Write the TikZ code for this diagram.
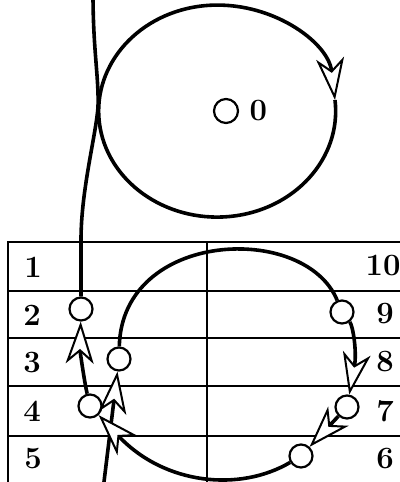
\documentclass[tikz,border=0pt]{standalone}
\usepackage{tikz}
\usetikzlibrary{arrows.meta,positioning}

\begin{document}
\begin{tikzpicture}[
  x=0.5pt, y=-0.5pt,
  state/.style={circle, draw, line width=1.1pt, fill=white, minimum size=11.5pt, inner sep=0pt},
  num/.style={font=\fontsize{15.5}{18}\selectfont\bfseries, inner sep=0pt},
  grid/.style={line width=1pt},
  track/.style={line width=1.8pt},
  arrow/.style={track, -{Stealth[length=21pt, width=14pt, inset=6pt, line width=1pt, fill=white]}}
]
\useasboundingbox (0,0) rectangle (400,482);
\clip (0,0) rectangle (400,482);
% table
\draw[grid] (410,242) -| (8,490);
\foreach \y in {291,338,386,436} \draw[grid] (8,\y) -- (410,\y);
\draw[grid] (207,242) -- (207,490);
% row numbers
\node[num] (l1) at (33,267) {1};
\node[num] (l2) at (32,315) {2};
\node[num] (l3) at (32,363) {3};
\node[num] (l4) at (32,411) {4};
\node[num] (l5) at (33,459) {5};
\node[num] (l6) at (385,459) {6};
\node[num] (l7) at (385,411) {7};
\node[num] (l8) at (385,362) {8};
\node[num] (l9) at (385,314) {9};
\node[num] (l10) at (383,266) {10};

% orbit
\node[state, minimum size=12pt] (n0) at (226,111) {};
\node[num, right=5pt of n0] (l0) {0};
\draw[arrow] (335,100) arc[start angle=-6, end angle=354, x radius=118.5, y radius=106];

% stations
\node[state] (n2) at (81,309) {};
\node[state] (n3) at (119,359) {};
\node[state] (n4) at (90,406) {};
\node[state] (n9) at (342,312) {};
\node[state] (n7) at (347,407) {};
\node[state] (n6) at (301,456) {};
\coordinate (top) at (93,-6);
\coordinate (bot) at (103,490);

\draw[track] (top) .. controls (93,50) and (99,78) .. (98,107)
  .. controls (96,135) and (81,190) .. (81,240) -- (n2);
\draw[arrow] (bot) -- (n3);
\draw[track] (n3) .. controls (122,230) and (305,222) .. (n9);
\draw[arrow] (n9) .. controls (353,326) and (357,352) .. (n7);
\draw[arrow] (n7) -- (n6);
\draw[arrow] (n6) .. controls (240,492) and (165,485) .. (n4);
\draw[arrow] (n4) .. controls (84,380) and (80,350) .. (n2);
\end{tikzpicture}
\end{document}
